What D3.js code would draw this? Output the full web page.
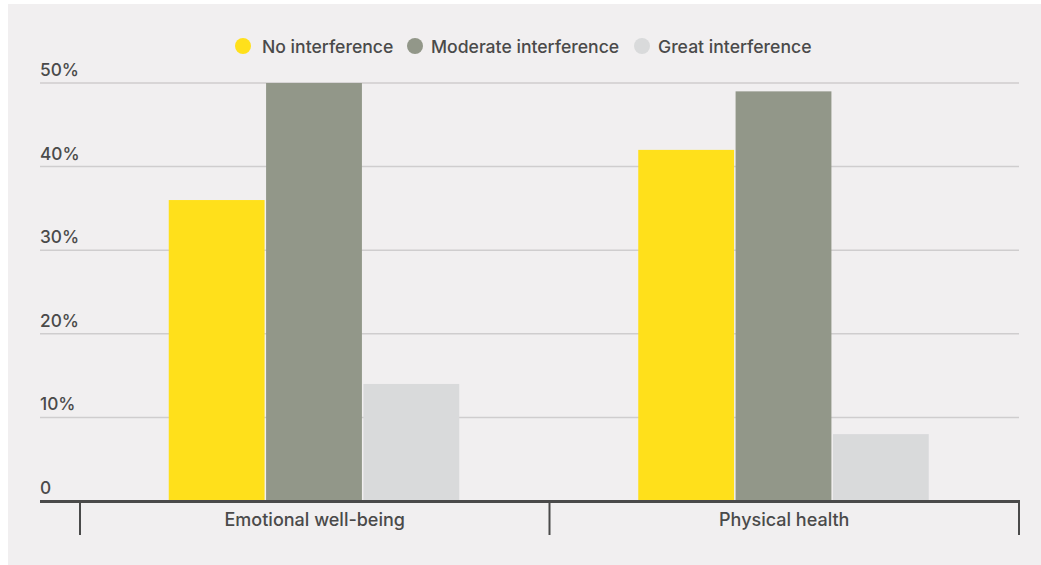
<!DOCTYPE html>
<html>
<head>
<meta charset="utf-8">
<script src="https://cdn.jsdelivr.net/npm/d3@7"></script>
<style>
  html, body { margin: 0; padding: 0; background: #ffffff; }
  svg { display: block; }
  text { font-family: Inter, "Open Sans", sans-serif; fill: #4a4a4a; }
</style>
</head>
<body>
<svg id="chart" width="1041" height="565"></svg>
<script>
const categories = ["Emotional well-being", "Physical health"];
const seriesNames = ["No interference", "Moderate interference", "Great interference"];
const noInterference = [36, 42];
const moderateInterference = [50, 49];
const greatInterference = [14, 8];
const yTicks = [0, 10, 20, 30, 40, 50];
const yTickLabels = ["0", "10%", "20%", "30%", "40%", "50%"];
const colors = ["#ffe01b", "#929789", "#d9dadb"];

(function () {
const series = [noInterference, moderateInterference, greatInterference];

const svg = d3.select("#chart");
svg.append("rect").attr("x", 8).attr("y", 4).attr("width", 1033).attr("height", 561).attr("fill", "#f1eff0");

const plotLeft = 40, plotRight = 1020, plotTop = 83, plotBottom = 501;
const x0 = d3.scaleBand().domain(categories).range([80, 1019]).paddingInner(0).paddingOuter(0);
const y = d3.scaleLinear().domain([0, 50]).range([plotBottom, plotTop]);

// gridlines
svg.append("g").selectAll("line").data(yTicks.filter(d => d > 0)).join("line")
  .attr("x1", plotLeft).attr("x2", 1019)
  .attr("y1", d => y(d)).attr("y2", d => y(d))
  .attr("stroke", "#cfcdce").attr("stroke-width", 1.5);

// tick labels
svg.append("g").selectAll("text").data(yTicks).join("text")
  .attr("x", plotLeft).attr("y", d => y(d) - 7)
  .attr("font-size", 17.3).attr("font-weight", 500)
  .text((d, i) => yTickLabels[i]);

// bars
const groupW = 292;
const x1 = d3.scaleBand().domain(seriesNames).range([0, groupW]).padding(0);
const g = svg.append("g");
categories.forEach((c, ci) => {
  const gx = x0(c) + x0.bandwidth() / 2 - groupW / 2;
  g.append("g").selectAll("rect").data(seriesNames).join("rect")
    .attr("x", s => gx + x1(s))
    .attr("width", x1.bandwidth() - 1.5)
    .attr("y", (s, si) => y(series[si][ci]))
    .attr("height", (s, si) => plotBottom - y(series[si][ci]))
    .attr("fill", (s, si) => colors[si]);
});

// x axis
svg.append("line").attr("x1", plotLeft).attr("x2", plotRight).attr("y1", plotBottom + 0.5).attr("y2", plotBottom + 0.5)
  .attr("stroke", "#4a4a4a").attr("stroke-width", 3);
const bounds = [x0.range()[0]].concat(categories.map(c => x0(c) + x0.bandwidth()));
svg.append("g").selectAll("line").data(bounds).join("line")
  .attr("x1", d => d).attr("x2", d => d)
  .attr("y1", plotBottom).attr("y2", 535)
  .attr("stroke", "#4a4a4a").attr("stroke-width", 2);
svg.append("g").selectAll("text").data(categories).join("text")
  .attr("x", c => x0(c) + x0.bandwidth() / 2).attr("y", 526)
  .attr("text-anchor", "middle").attr("font-size", 18).attr("font-weight", 500)
  .text(c => c);

// legend
const legendItems = [
  { name: seriesNames[0], cx: 243, tx: 262 },
  { name: seriesNames[1], cx: 415, tx: 431 },
  { name: seriesNames[2], cx: 642, tx: 658 }
];
const lg = svg.append("g");
legendItems.forEach((it, i) => {
  lg.append("circle").attr("cx", it.cx).attr("cy", 46).attr("r", 8).attr("fill", colors[i]);
  lg.append("text").attr("x", it.tx).attr("y", 52.5).attr("font-size", 17.6).attr("font-weight", 500).text(it.name);
});
})();
</script>
</body>
</html>
